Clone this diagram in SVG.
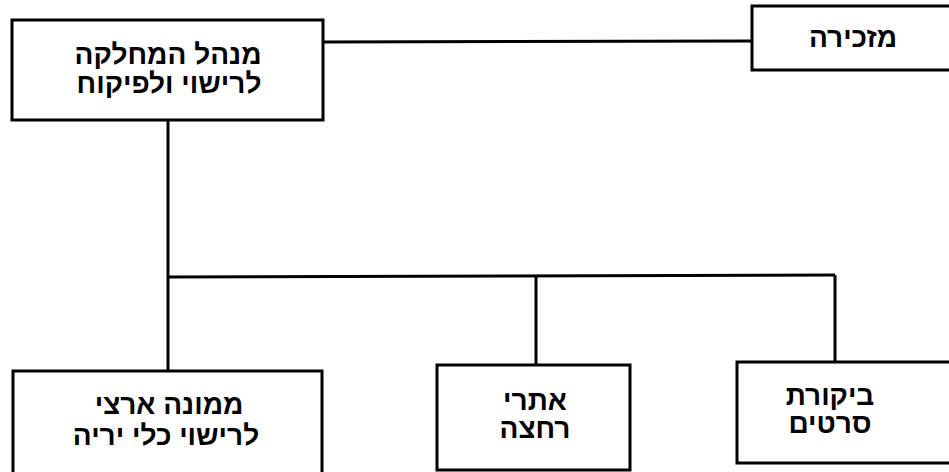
<svg xmlns="http://www.w3.org/2000/svg" width="949" height="472" viewBox="0 0 949 472">
<style>
.box{fill:#fff;stroke:#000;stroke-width:3}
.ln{fill:none;stroke:#000;stroke-width:3}
.t{font-family:"Liberation Sans","DejaVu Sans",sans-serif;font-weight:bold;font-size:28px;fill:#000;text-anchor:middle}
</style>
<rect width="949" height="472" fill="#fff"/>
<g id="connectors">
<line class="ln" x1="323" y1="42" x2="752" y2="41"/>
<line class="ln" x1="168" y1="120" x2="168" y2="371"/>
<line class="ln" x1="168" y1="277" x2="835" y2="275"/>
<line class="ln" x1="536" y1="276" x2="536" y2="365"/>
<line class="ln" x1="835" y1="275" x2="835" y2="362"/>
</g>
<g id="node-manager">
<rect class="box" x="12" y="20" width="311" height="100"/>
<text class="t" x="168" y="64" direction="rtl">מנהל המחלקה</text>
<text class="t" x="169" y="93" direction="rtl">לרישוי ולפיקוח</text>
</g>
<g id="node-secretary">
<rect class="box" x="752" y="6" width="200" height="64"/>
<text class="t" x="853" y="47" direction="rtl">מזכירה</text>
</g>
<g id="node-firearms">
<rect class="box" x="13" y="371" width="309" height="110"/>
<text class="t" x="169" y="414" direction="rtl">ממונה ארצי</text>
<text class="t" x="166" y="445" direction="rtl">לרישוי כלי יריה</text>
</g>
<g id="node-beaches">
<rect class="box" x="437" y="365" width="193" height="105"/>
<text class="t" x="535" y="410" direction="rtl">אתרי</text>
<text class="t" x="535" y="438" direction="rtl">רחצה</text>
</g>
<g id="node-films">
<rect class="box" x="737" y="362" width="215" height="101"/>
<text class="t" x="830" y="405" direction="rtl">ביקורת</text>
<text class="t" x="830" y="433" direction="rtl">סרטים</text>
</g>
</svg>
